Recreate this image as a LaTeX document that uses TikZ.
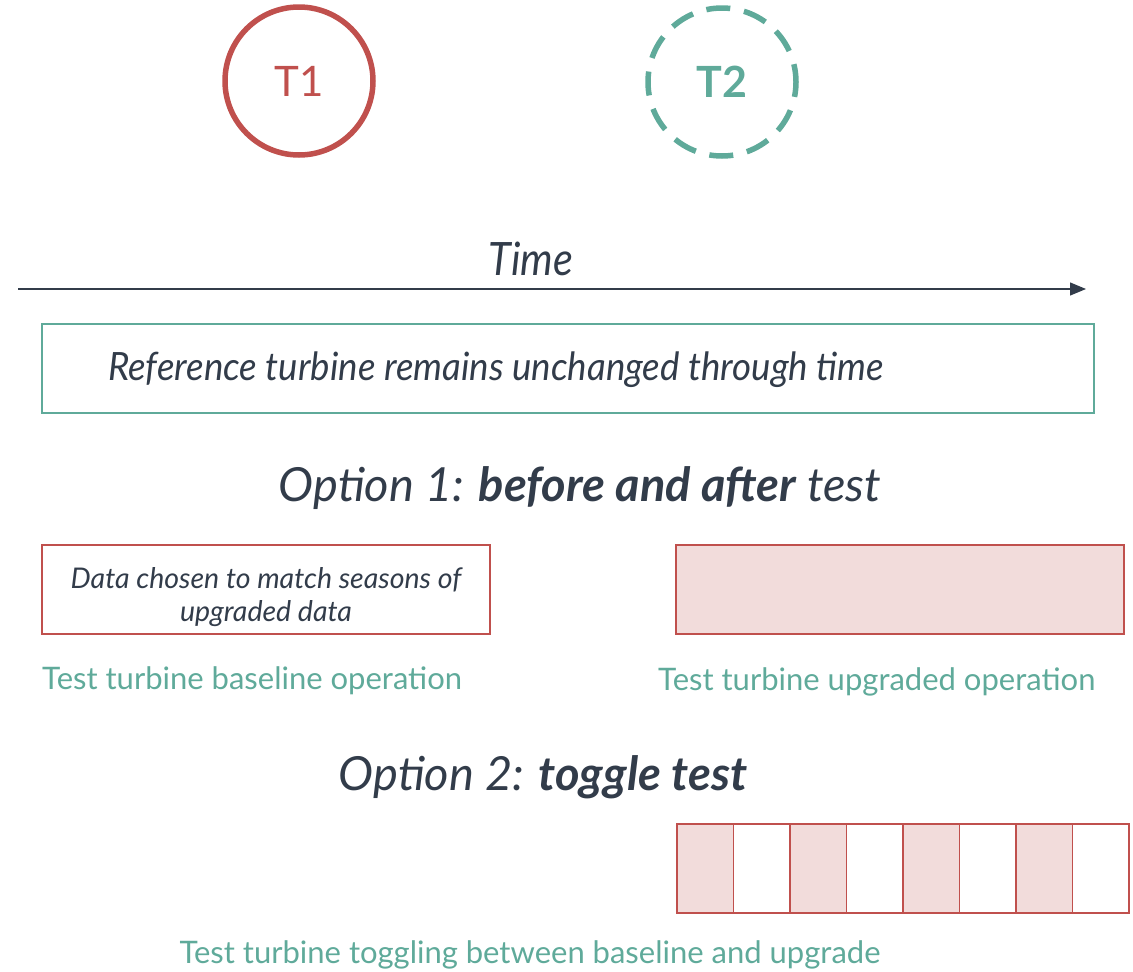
\documentclass[tikz,border=0pt]{standalone}
\usepackage{fontspec}
\setmainfont{Lato}
\usetikzlibrary{arrows.meta}
\definecolor{tred}{HTML}{C0504D}
\definecolor{tteal}{HTML}{5FAA9A}
\definecolor{tdark}{HTML}{323C4A}
\definecolor{tpink}{HTML}{F2DCDB}
\tikzset{
  turb/.style={circle, minimum size=148pt, line width=5.5pt, inner sep=0pt},
  bar/.style={draw=tred, line width=1.8pt},
  caption/.style={text=tteal, anchor=west, inner sep=0pt, font=\fontsize{31}{36}\selectfont},
  heading/.style={text=tdark, inner sep=0pt, font=\fontsize{47}{52}\selectfont\itshape},
}
\begin{document}
\begin{tikzpicture}[x=1pt,y=-1pt]
\useasboundingbox (0,0) rectangle (1133,972);

% turbines
\node[turb, draw=tred, text=tred, font=\fontsize{42}{48}\selectfont] (t1) at (299,81) {T1};
\node[turb, draw=tteal, text=tteal, dash pattern=on 24pt off 14pt, dash phase=6pt,
      font=\fontsize{43}{48}\selectfont\bfseries] (t2) at (722,82) {T2};

% time axis
\node[text=tdark, inner sep=0pt, font=\fontsize{46}{52}\selectfont\itshape] (time) at (531,259) {\addfontfeature{FakeStretch=0.9}Time};
\coordinate (a0) at (18,289);
\coordinate (a1) at (1086,289);
\draw[tdark, line width=1.3pt, -{Triangle[length=16pt,width=13pt]}] (a0) -- (a1);

% reference turbine
\node[draw=tteal, line width=1.8pt, minimum width=1052pt, minimum height=89pt, inner sep=0pt] (ref) at (568,368.5) {};
\node[text=tdark, anchor=west, inner sep=0pt, font=\fontsize{39}{44}\selectfont\itshape] (reftxt) at (108,370) {\addfontfeature{FakeStretch=0.94}Reference turbine remains unchanged through time};

% option 1
\node[heading] (opt1) at (580,488) {Option 1: \textbf{before and after} test};
\node[bar, minimum width=448pt, minimum height=89pt, inner sep=0pt] (base) at (266,589.5) {};
\node[text=tdark, align=center, inner sep=0pt, font=\fontsize{28.5}{33}\selectfont\itshape] (basetxt) at (266,597) {Data chosen to match seasons of\\upgraded data};
\node[bar, fill=tpink, minimum width=448pt, minimum height=89pt, inner sep=0pt] (upg) at (900,589.5) {};
\node[caption] (cap1) at (42,681) {Test turbine baseline operation};
\node[caption] (cap2) at (658,682) {Test turbine upgraded operation};

% option 2
\node[heading] (opt2) at (543,777) {Option 2: \textbf{toggle test}};
\foreach \i in {0,...,7}{
  \pgfmathsetmacro{\xx}{677+56.5*\i+28.25}
  \ifodd\i
    \node[bar, minimum width=56.5pt, minimum height=89pt, inner sep=0pt] (tg\i) at (\xx,868.5) {};
  \else
    \node[bar, fill=tpink, minimum width=56.5pt, minimum height=89pt, inner sep=0pt] (tg\i) at (\xx,868.5) {};
  \fi
}
\node[caption, anchor=center] (cap3) at (530,955) {Test turbine toggling between baseline and upgrade};
\end{tikzpicture}
\end{document}
